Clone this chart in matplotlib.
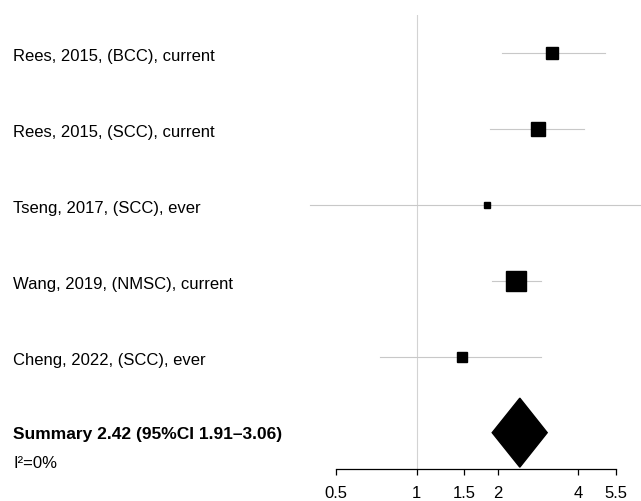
import numpy as np
import matplotlib
matplotlib.use('Agg')
import matplotlib.pyplot as plt
from matplotlib.transforms import blended_transform_factory
from matplotlib.patches import Polygon

plt.rcParams['font.family'] = ['Liberation Sans', 'DejaVu Sans']

studies = ['Rees, 2015, (BCC), current', 'Rees, 2015, (SCC), current',
           'Tseng, 2017, (SCC), ever', 'Wang, 2019, (NMSC), current',
           'Cheng, 2022, (SCC), ever']
est = [3.20, 2.82, 1.82, 2.34, 1.47]
lower = [2.07, 1.88, 0.40, 1.90, 0.73]
upper = [5.01, 4.20, 8.30, 2.90, 2.91]
weights = [15, 21, 6, 48, 10]
summary = [2.42, 1.91, 3.06]
i2 = 0
ticks = [0.5, 1, 1.5, 2, 4, 5.5]
tick_labels = ['0.5', '1', '1.5', '2', '4', '5.5']

fig = plt.figure(figsize=(6.41, 5.01), dpi=100)
ax = fig.add_axes([0.5237, 0.0639, 0.4368, 0.9061])
ax.set_xscale('log')
ax.set_xlim(0.5, 5.5)
ax.set_ylim(-0.478, 5.496)

ax.axvline(1, color='#d3d3d3', lw=0.8, zorder=1)

n = len(studies)
ypos = np.arange(n, 0, -1)
for i in range(n):
    ax.plot([lower[i], upper[i]], [ypos[i], ypos[i]], color='#c8c8c8',
            lw=0.8, zorder=2, clip_on=False)
    ax.plot(est[i], ypos[i], marker='s', color='black',
            markersize=2.05 * np.sqrt(weights[i]), zorder=3)

h = 0.454
diamond = Polygon([[summary[1], 0], [summary[0], h], [summary[2], 0],
                   [summary[0], -h]], closed=True, facecolor='black',
                  edgecolor='black', zorder=3)
ax.add_patch(diamond)

trans = blended_transform_factory(fig.transFigure, ax.transData)
for i in range(n):
    ax.text(0.0203, ypos[i] - 0.05, studies[i], transform=trans,
            fontsize=12, va='center', ha='left')
ax.text(0.0203, -0.03, 'Summary %.2f (95%%CI %.2f\u2013%.2f)' % tuple(summary),
        transform=trans, fontsize=12.5, fontweight='bold', va='center',
        ha='left')
ax.text(0.0203, -0.4, 'I\u00b2=%d%%' % i2, transform=trans, fontsize=12,
        va='center', ha='left')

for s in ['top', 'right', 'left']:
    ax.spines[s].set_visible(False)
ax.spines['bottom'].set_linewidth(0.9)
ax.set_yticks([])
ax.set_xticks(ticks)
ax.set_xticklabels(tick_labels)
ax.xaxis.set_minor_locator(matplotlib.ticker.NullLocator())
ax.tick_params(axis='x', length=4, width=0.9, labelsize=12, pad=8)

fig.savefig('out.png', dpi=100)
